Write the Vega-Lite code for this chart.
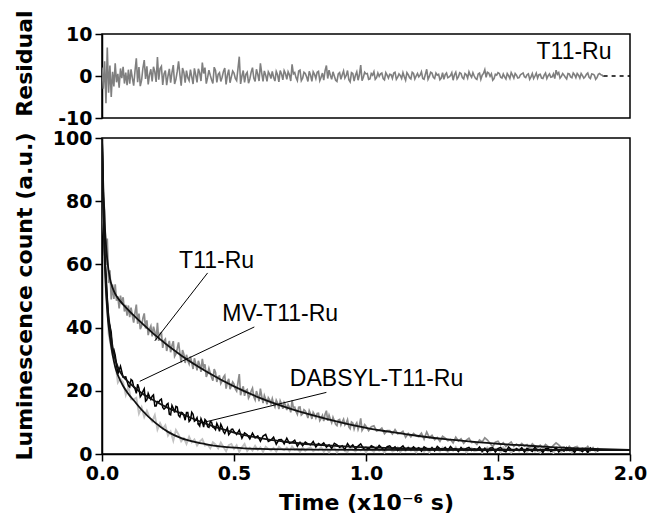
{
"$schema": "https://vega.github.io/schema/vega-lite/v6.json",
"background": "white",
"padding": {"left": 12, "top": 9, "right": 5, "bottom": 5},
"bounds": "flush",
"config": {
  "view": {"stroke": "black", "strokeWidth": 1.5},
  "axis": {"domainColor": "black", "domainWidth": 1.5, "tickColor": "black", "tickWidth": 1.5, "tickSize": 7, "grid": false,
    "labelFont": "DejaVu Sans", "labelFontWeight": "bold", "labelFontSize": 19, "labelColor": "black", "labelPadding": 3, "labelFlush": false,
    "titleFont": "DejaVu Sans", "titleFontWeight": "bold", "titleFontSize": 22, "titleColor": "black"},
  "text": {"font": "Liberation Sans", "fontSize": 23, "color": "black"}
},
"datasets": {
"res": [{"t":0,"v":2},{"t":0.005,"v":-3},{"t":0.01,"v":3.5},{"t":0.015,"v":-6.5},{"t":0.02,"v":6.8},{"t":0.025,"v":-4},{"t":0.03,"v":2.5},{"t":0.035,"v":-5},{"t":0.04,"v":1},{"t":0.045,"v":-2.5},{"t":0.05,"v":3},{"t":0.055,"v":-1.5},{"t":0.06,"v":0.5},{"t":0.065,"v":-2.8},{"t":0.07,"v":1.8},{"t":0.075,"v":-0.5},{"t":0.08,"v":2.2},{"t":0.085,"v":-1.8},{"t":0.09,"v":0.8},{"t":0.095,"v":-2.2},{"t":0.1,"v":1.5},
{"t":0.11,"v":1.6},{"t":0.12,"v":-2.3},{"t":0.13,"v":4.2},{"t":0.14,"v":2.1},{"t":0.15,"v":-1.0},{"t":0.16,"v":3.8},{"t":0.17,"v":2.3},{"t":0.18,"v":0.3},{"t":0.19,"v":-1.3},{"t":0.2,"v":1.0},
{"t":0.21,"v":4.5},{"t":0.22,"v":1.8},{"t":0.23,"v":-2.1},{"t":0.24,"v":1.3},{"t":0.25,"v":0.0},{"t":0.26,"v":-1.6},{"t":0.27,"v":2.6},{"t":0.28,"v":-0.8},{"t":0.29,"v":3.5},{"t":0.3,"v":-2.3},
{"t":0.31,"v":0.9},{"t":0.32,"v":1.3},{"t":0.33,"v":-1.1},{"t":0.34,"v":-0.2},{"t":0.35,"v":1.8},{"t":0.36,"v":-1.5},{"t":0.37,"v":0.7},{"t":0.38,"v":3.2},{"t":0.39,"v":2.0},{"t":0.4,"v":-0.4},
{"t":0.41,"v":0.2},{"t":0.42,"v":-1.8},{"t":0.43,"v":1.3},{"t":0.44,"v":0.4},{"t":0.45,"v":-1.3},{"t":0.46,"v":1.1},{"t":0.47,"v":-2.0},{"t":0.48,"v":1.5},{"t":0.49,"v":-0.2},{"t":0.5,"v":0.7},
{"t":0.51,"v":-1.1},{"t":0.52,"v":4.6},{"t":0.53,"v":0.0},{"t":0.54,"v":-1.5},{"t":0.55,"v":0.9},{"t":0.56,"v":-0.7},{"t":0.57,"v":2.0},{"t":0.58,"v":-1.3},{"t":0.59,"v":0.4},{"t":0.6,"v":3.0},
{"t":0.61,"v":-1.3},{"t":0.62,"v":0.2},{"t":0.63,"v":1.0},{"t":0.64,"v":-0.6},{"t":0.65,"v":-0.3},{"t":0.66,"v":1.1},{"t":0.67,"v":-1.4},{"t":0.68,"v":0.5},{"t":0.69,"v":1.3},{"t":0.7,"v":-0.8},
{"t":0.71,"v":0.3},{"t":0.72,"v":2.8},{"t":0.73,"v":0.8},{"t":0.74,"v":-1.1},{"t":0.75,"v":1.4},{"t":0.76,"v":-0.5},{"t":0.77,"v":0.6},{"t":0.78,"v":-1.3},{"t":0.79,"v":0.2},{"t":0.8,"v":1.0},
{"t":0.81,"v":-0.6},{"t":0.82,"v":1.1},{"t":0.83,"v":-0.3},{"t":0.84,"v":-1.0},{"t":0.85,"v":2.5},{"t":0.86,"v":1.4},{"t":0.87,"v":-0.8},{"t":0.88,"v":0.0},{"t":0.89,"v":-1.3},{"t":0.9,"v":0.8},
{"t":0.91,"v":0.3},{"t":0.92,"v":-0.5},{"t":0.93,"v":1.3},{"t":0.94,"v":-1.4},{"t":0.95,"v":0.6},{"t":0.96,"v":0.2},{"t":0.97,"v":-1.0},{"t":0.98,"v":2.6},{"t":0.99,"v":-0.3},{"t":1.0,"v":0.5},
{"t":1.01,"v":-0.8},{"t":1.02,"v":0.6},{"t":1.03,"v":1.0},{"t":1.04,"v":-0.4},{"t":1.05,"v":-0.1},{"t":1.06,"v":0.7},{"t":1.07,"v":-0.9},{"t":1.08,"v":0.2},{"t":1.09,"v":0.4},{"t":1.1,"v":-0.6},
{"t":1.11,"v":0.9},{"t":1.12,"v":-0.3},{"t":1.13,"v":0.1},{"t":1.14,"v":0.8},{"t":1.15,"v":-1.0},{"t":1.16,"v":0.3},{"t":1.17,"v":-0.7},{"t":1.18,"v":0.6},{"t":1.19,"v":0.0},{"t":1.2,"v":-0.2},
{"t":1.21,"v":1.0},{"t":1.22,"v":-0.8},{"t":1.23,"v":1.6},{"t":1.24,"v":-0.1},{"t":1.25,"v":0.7},{"t":1.26,"v":-0.6},{"t":1.27,"v":0.2},{"t":1.28,"v":-0.9},{"t":1.29,"v":0.8},{"t":1.3,"v":0.3},
{"t":1.31,"v":-0.4},{"t":1.32,"v":0.1},{"t":1.33,"v":-1.0},{"t":1.34,"v":0.9},{"t":1.35,"v":-0.2},{"t":1.36,"v":0.6},{"t":1.37,"v":-0.7},{"t":1.38,"v":0.3},{"t":1.39,"v":1.0},{"t":1.4,"v":-0.3},
{"t":1.41,"v":0.0},{"t":1.42,"v":-0.8},{"t":1.43,"v":0.7},{"t":1.44,"v":0.2},{"t":1.45,"v":1.5},{"t":1.46,"v":0.9},{"t":1.47,"v":-0.1},{"t":1.48,"v":-1.0},{"t":1.49,"v":0.4},{"t":1.5,"v":0.8},
{"t":1.51,"v":-0.3},{"t":1.52,"v":0.5},{"t":1.53,"v":-0.7},{"t":1.54,"v":0.1},{"t":1.55,"v":0.8},{"t":1.56,"v":-0.5},{"t":1.57,"v":0.2},{"t":1.58,"v":-0.4},{"t":1.59,"v":0.5},{"t":1.6,"v":-0.2},
{"t":1.61,"v":0.3},{"t":1.62,"v":-0.8},{"t":1.63,"v":0.6},{"t":1.64,"v":0.0},{"t":1.65,"v":-0.5},{"t":1.66,"v":0.4},{"t":1.67,"v":-0.6},{"t":1.68,"v":0.7},{"t":1.69,"v":0.1},{"t":1.7,"v":-0.3},
{"t":1.71,"v":0.5},{"t":1.72,"v":1.4},{"t":1.73,"v":0.8},{"t":1.74,"v":-0.1},{"t":1.75,"v":0.2},{"t":1.76,"v":-0.7},{"t":1.77,"v":0.5},{"t":1.78,"v":-0.4},{"t":1.79,"v":0.3},{"t":1.8,"v":0.6},
{"t":1.81,"v":-0.5},{"t":1.82,"v":0.1},{"t":1.83,"v":-0.2},{"t":1.84,"v":0.7},{"t":1.85,"v":-0.6},{"t":1.86,"v":0.4},{"t":1.87,"v":-0.8},{"t":1.88,"v":0.4},{"t":1.89,"v":0.3},{"t":1.9,"v":-0.2},
{"t":0.105,"v":-1.8},{"t":0.115,"v":-0.5},{"t":0.125,"v":1.2},{"t":0.135,"v":-1.5},{"t":0.145,"v":-2.4},{"t":0.155,"v":1.9},{"t":0.165,"v":-0.7},{"t":0.175,"v":-2.0},{"t":0.185,"v":1.6},{"t":0.195,"v":2.2},
{"t":0.205,"v":-1.4},{"t":0.215,"v":-0.9},{"t":0.225,"v":2.3},{"t":0.235,"v":0.5},{"t":0.245,"v":-2.2},{"t":0.255,"v":1.7},{"t":0.265,"v":0.8},{"t":0.275,"v":-1.9},{"t":0.285,"v":1.1},{"t":0.295,"v":0.4},
{"t":0.305,"v":1.9},{"t":0.315,"v":-1.6},{"t":0.325,"v":-0.4},{"t":0.335,"v":1.5},{"t":0.345,"v":-1.9},{"t":0.355,"v":0.3},{"t":0.365,"v":1.7},{"t":0.375,"v":-1.2},{"t":0.385,"v":0.6},{"t":0.395,"v":-1.8},
{"t":0.405,"v":1.4},{"t":0.415,"v":-0.9},{"t":0.425,"v":2.1},{"t":0.435,"v":-1.5},{"t":0.445,"v":0.8},{"t":0.455,"v":-0.3},{"t":0.465,"v":1.9},{"t":0.475,"v":0.2},{"t":0.485,"v":-1.6},{"t":0.495,"v":1.2},
{"t":0.505,"v":-0.6},{"t":0.515,"v":1.7},{"t":0.525,"v":-1.9},{"t":0.535,"v":1.3},{"t":0.545,"v":0.4},{"t":0.555,"v":-1.7},{"t":0.565,"v":0.9},{"t":0.575,"v":-0.5},{"t":0.585,"v":1.6},{"t":0.595,"v":-1.2},
{"t":0.605,"v":0.7},{"t":0.615,"v":1.2},{"t":0.625,"v":-1.3},{"t":0.635,"v":0.4},{"t":0.645,"v":1.1},{"t":0.655,"v":-1.2},{"t":0.665,"v":0.3},{"t":0.675,"v":1.3},{"t":0.685,"v":-0.9},{"t":0.695,"v":0.6},
{"t":0.705,"v":1.0},{"t":0.715,"v":-1.2},{"t":0.725,"v":0.5},{"t":0.735,"v":-0.4},{"t":0.745,"v":1.2},{"t":0.755,"v":-1.1},{"t":0.765,"v":0.9},{"t":0.775,"v":-0.2},{"t":0.785,"v":1.1},{"t":0.795,"v":-1.3},
{"t":0.805,"v":0.4},{"t":0.815,"v":0.9},{"t":0.825,"v":-1.1},{"t":0.835,"v":0.7},{"t":0.845,"v":1.3},{"t":0.855,"v":-0.6},{"t":0.865,"v":0.2},{"t":0.875,"v":1.0},{"t":0.885,"v":-1.0},{"t":0.895,"v":0.5},
{"t":0.905,"v":-0.8},{"t":0.915,"v":1.2},{"t":0.925,"v":0.1},{"t":0.935,"v":-0.9},{"t":0.945,"v":0.8},{"t":0.955,"v":-1.2},{"t":0.965,"v":1.0},{"t":0.975,"v":0.3},{"t":0.985,"v":-1.1},{"t":0.995,"v":0.9},
{"t":1.005,"v":0.6},{"t":1.015,"v":-0.7},{"t":1.025,"v":0.2},{"t":1.035,"v":-0.8},{"t":1.045,"v":0.7},{"t":1.055,"v":0.5},{"t":1.065,"v":-0.6},{"t":1.075,"v":0.8},{"t":1.085,"v":-0.5},{"t":1.095,"v":0.3},
{"t":1.105,"v":0.7},{"t":1.115,"v":-0.8},{"t":1.125,"v":0.5},{"t":1.135,"v":-0.6},{"t":1.145,"v":-0.2},{"t":1.155,"v":0.8},{"t":1.165,"v":-0.4},{"t":1.175,"v":0.9},{"t":1.185,"v":-0.7},{"t":1.195,"v":0.6},
{"t":1.205,"v":0.2},{"t":1.215,"v":-0.6},{"t":1.225,"v":0.4},{"t":1.235,"v":-0.8},{"t":1.245,"v":0.9},{"t":1.255,"v":-0.3},{"t":1.265,"v":0.7},{"t":1.275,"v":0.4},{"t":1.285,"v":-0.5},{"t":1.295,"v":-0.8},
{"t":1.305,"v":0.7},{"t":1.315,"v":-0.2},{"t":1.325,"v":0.8},{"t":1.335,"v":0.3},{"t":1.345,"v":-0.7},{"t":1.355,"v":0.8},{"t":1.365,"v":-0.4},{"t":1.375,"v":0.6},{"t":1.385,"v":-0.5},{"t":1.395,"v":0.2},
{"t":1.405,"v":0.8},{"t":1.415,"v":-0.6},{"t":1.425,"v":0.5},{"t":1.435,"v":-0.8},{"t":1.445,"v":0.6},{"t":1.455,"v":-0.3},{"t":1.465,"v":0.7},{"t":1.475,"v":0.5},{"t":1.485,"v":-0.6},{"t":1.495,"v":0.2},
{"t":1.505,"v":0.6},{"t":1.515,"v":-0.5},{"t":1.525,"v":-0.2},{"t":1.535,"v":0.6},{"t":1.545,"v":-0.6},{"t":1.555,"v":0.2},{"t":1.565,"v":0.6},{"t":1.575,"v":-0.5},{"t":1.585,"v":0.3},{"t":1.595,"v":0.7},
{"t":1.605,"v":-0.4},{"t":1.615,"v":0.5},{"t":1.625,"v":-0.2},{"t":1.635,"v":-0.6},{"t":1.645,"v":0.7},{"t":1.655,"v":0.3},{"t":1.665,"v":-0.5},{"t":1.675,"v":0.2},{"t":1.685,"v":-0.6},{"t":1.695,"v":0.5},
{"t":1.705,"v":-0.2},{"t":1.715,"v":-0.6},{"t":1.725,"v":0.4},{"t":1.735,"v":-0.5},{"t":1.745,"v":0.6},{"t":1.755,"v":-0.3},{"t":1.765,"v":0.6},{"t":1.775,"v":-0.2},{"t":1.785,"v":0.7},{"t":1.795,"v":-0.4},
{"t":1.805,"v":0.2},{"t":1.815,"v":0.6},{"t":1.825,"v":-0.5},{"t":1.835,"v":0.4},{"t":1.845,"v":-0.3},{"t":1.855,"v":0.5},{"t":1.865,"v":0.2},{"t":1.875,"v":-0.4},{"t":1.885,"v":0.6},{"t":1.895,"v":0.2}],
"zero": [{"t":1.9,"t2":2.0,"v":0}],
"reslab": [{"t":1.93,"v":4,"label":"T11-Ru"}],
"t11": [{"t":0,"v":99},{"t":0.005,"v":81.2},{"t":0.01,"v":77.0},{"t":0.015,"v":59.8},{"t":0.02,"v":68.2},{"t":0.025,"v":54.1},{"t":0.03,"v":58.1},{"t":0.035,"v":48.9},{"t":0.04,"v":53.6},{"t":0.045,"v":49.1},{"t":0.05,"v":53.7},{"t":0.055,"v":48.5},{"t":0.06,"v":49.9},{"t":0.065,"v":46.1},{"t":0.07,"v":50.1},{"t":0.075,"v":47.4},{"t":0.08,"v":49.6},{"t":0.085,"v":45.1},{"t":0.09,"v":47.2},{"t":0.095,"v":43.8},{"t":0.1,"v":47.0},
{"t":0.11,"v":46.3},{"t":0.12,"v":41.6},{"t":0.13,"v":47.3},{"t":0.14,"v":44.4},{"t":0.15,"v":40.5},{"t":0.16,"v":44.5},{"t":0.17,"v":42.3},{"t":0.18,"v":39.5},{"t":0.19,"v":37.2},{"t":0.2,"v":38.7},
{"t":0.21,"v":41.5},{"t":0.22,"v":38.2},{"t":0.23,"v":33.6},{"t":0.24,"v":36.4},{"t":0.25,"v":34.4},{"t":0.26,"v":32.2},{"t":0.27,"v":35.7},{"t":0.28,"v":31.7},{"t":0.29,"v":35.3},{"t":0.3,"v":28.9},
{"t":0.31,"v":31.6},{"t":0.32,"v":31.4},{"t":0.33,"v":28.5},{"t":0.34,"v":28.9},{"t":0.35,"v":30.3},{"t":0.36,"v":26.5},{"t":0.37,"v":28.2},{"t":0.38,"v":30.1},{"t":0.39,"v":28.4},{"t":0.4,"v":25.5},
{"t":0.41,"v":25.6},{"t":0.42,"v":23.2},{"t":0.43,"v":25.8},{"t":0.44,"v":24.5},{"t":0.45,"v":22.3},{"t":0.46,"v":24.3},{"t":0.47,"v":20.7},{"t":0.48,"v":23.8},{"t":0.49,"v":21.6},{"t":0.5,"v":22.1},
{"t":0.51,"v":19.9},{"t":0.52,"v":25.3},{"t":0.53,"v":20.3},{"t":0.54,"v":18.4},{"t":0.55,"v":20.4},{"t":0.56,"v":18.5},{"t":0.57,"v":20.8},{"t":0.58,"v":17.1},{"t":0.59,"v":18.5},{"t":0.6,"v":20.7},
{"t":0.61,"v":16.1},{"t":0.62,"v":17.3},{"t":0.63,"v":17.8},{"t":0.64,"v":15.9},{"t":0.65,"v":15.9},{"t":0.66,"v":17.0},{"t":0.67,"v":14.2},{"t":0.68,"v":15.8},{"t":0.69,"v":16.3},{"t":0.7,"v":13.9},
{"t":0.71,"v":14.8},{"t":0.72,"v":17.0},{"t":0.73,"v":14.8},{"t":0.74,"v":12.6},{"t":0.75,"v":14.9},{"t":0.76,"v":12.7},{"t":0.77,"v":13.6},{"t":0.78,"v":11.4},{"t":0.79,"v":12.7},{"t":0.8,"v":13.2},
{"t":0.81,"v":11.4},{"t":0.82,"v":12.9},{"t":0.83,"v":11.3},{"t":0.84,"v":10.4},{"t":0.85,"v":13.7},{"t":0.86,"v":12.3},{"t":0.87,"v":9.9},{"t":0.88,"v":10.5},{"t":0.89,"v":9.0},{"t":0.9,"v":10.9},
{"t":0.91,"v":10.2},{"t":0.92,"v":9.2},{"t":0.93,"v":10.9},{"t":0.94,"v":8.0},{"t":0.95,"v":9.8},{"t":0.96,"v":9.2},{"t":0.97,"v":7.8},{"t":0.98,"v":11.3},{"t":0.99,"v":8.2},{"t":1.0,"v":8.8},
{"t":1.01,"v":7.4},{"t":1.02,"v":8.6},{"t":1.03,"v":8.9},{"t":1.04,"v":7.3},{"t":1.05,"v":7.5},{"t":1.06,"v":8.2},{"t":1.07,"v":6.4},{"t":1.08,"v":7.4},{"t":1.09,"v":7.4},{"t":1.1,"v":6.3},
{"t":1.11,"v":7.7},{"t":1.12,"v":6.4},{"t":1.13,"v":6.6},{"t":1.14,"v":7.2},{"t":1.15,"v":5.3},{"t":1.16,"v":6.5},{"t":1.17,"v":5.4},{"t":1.18,"v":6.5},{"t":1.19,"v":5.8},{"t":1.2,"v":5.5},
{"t":1.21,"v":6.6},{"t":1.22,"v":4.7},{"t":1.23,"v":7.0},{"t":1.24,"v":5.2},{"t":1.25,"v":5.9},{"t":1.26,"v":4.5},{"t":1.27,"v":5.2},{"t":1.28,"v":4.0},{"t":1.29,"v":5.6},{"t":1.3,"v":5.0},
{"t":1.31,"v":4.2},{"t":1.32,"v":4.6},{"t":1.33,"v":3.5},{"t":1.34,"v":5.3},{"t":1.35,"v":4.1},{"t":1.36,"v":4.8},{"t":1.37,"v":3.4},{"t":1.38,"v":4.4},{"t":1.39,"v":5.0},{"t":1.4,"v":3.6},
{"t":1.41,"v":3.8},{"t":1.42,"v":3.0},{"t":1.43,"v":4.4},{"t":1.44,"v":3.8},{"t":1.45,"v":5.1},{"t":1.46,"v":4.4},{"t":1.47,"v":3.3},{"t":1.48,"v":2.3},{"t":1.49,"v":3.7},{"t":1.5,"v":4.0},
{"t":1.51,"v":2.9},{"t":1.52,"v":3.6},{"t":1.53,"v":2.4},{"t":1.54,"v":3.1},{"t":1.55,"v":3.8},{"t":1.56,"v":2.4},{"t":1.57,"v":3.1},{"t":1.58,"v":2.4},{"t":1.59,"v":3.3},{"t":1.6,"v":2.5},
{"t":1.61,"v":3.0},{"t":1.62,"v":1.8},{"t":1.63,"v":3.2},{"t":1.64,"v":2.5},{"t":1.65,"v":2.0},{"t":1.66,"v":2.8},{"t":1.67,"v":1.8},{"t":1.68,"v":3.0},{"t":1.69,"v":2.4},{"t":1.7,"v":1.9},
{"t":1.71,"v":2.7},{"t":1.72,"v":3.5},{"t":1.73,"v":2.9},{"t":1.74,"v":2.0},{"t":1.75,"v":2.2},{"t":1.76,"v":1.3},{"t":1.77,"v":2.4},{"t":1.78,"v":1.5},{"t":1.79,"v":2.1},{"t":1.8,"v":2.4},
{"t":1.81,"v":1.3},{"t":1.82,"v":1.9},{"t":1.83,"v":1.5},{"t":1.84,"v":2.4},{"t":1.85,"v":1.1},{"t":1.86,"v":2.0},{"t":1.87,"v":0.8},{"t":1.88,"v":2.0},
{"t":0.105,"v":43.3},{"t":0.115,"v":43.8},{"t":0.125,"v":44.7},{"t":0.135,"v":41.2},{"t":0.145,"v":39.5},{"t":0.155,"v":43.0},{"t":0.165,"v":39.7},{"t":0.175,"v":37.6},{"t":0.185,"v":40.5},{"t":0.195,"v":40.3},
{"t":0.205,"v":36.0},{"t":0.215,"v":35.8},{"t":0.225,"v":38.4},{"t":0.235,"v":35.9},{"t":0.245,"v":32.6},{"t":0.255,"v":35.8},{"t":0.265,"v":34.3},{"t":0.275,"v":30.9},{"t":0.285,"v":33.3},{"t":0.295,"v":31.9},
{"t":0.305,"v":32.9},{"t":0.315,"v":28.8},{"t":0.325,"v":29.5},{"t":0.335,"v":30.9},{"t":0.345,"v":26.9},{"t":0.355,"v":28.6},{"t":0.365,"v":29.5},{"t":0.375,"v":26.0},{"t":0.385,"v":27.3},{"t":0.395,"v":24.4},
{"t":0.405,"v":27.1},{"t":0.415,"v":24.3},{"t":0.425,"v":26.9},{"t":0.435,"v":22.8},{"t":0.445,"v":24.7},{"t":0.455,"v":23.1},{"t":0.465,"v":24.9},{"t":0.475,"v":22.7},{"t":0.485,"v":20.5},{"t":0.495,"v":22.8},
{"t":0.505,"v":20.6},{"t":0.515,"v":22.6},{"t":0.525,"v":18.6},{"t":0.535,"v":21.4},{"t":0.545,"v":20.1},{"t":0.555,"v":17.7},{"t":0.565,"v":19.9},{"t":0.575,"v":18.1},{"t":0.585,"v":19.9},{"t":0.595,"v":16.7},
{"t":0.605,"v":18.3},{"t":0.615,"v":18.5},{"t":0.625,"v":15.7},{"t":0.635,"v":17.1},{"t":0.645,"v":17.5},{"t":0.655,"v":14.9},{"t":0.665,"v":16.1},{"t":0.675,"v":16.8},{"t":0.685,"v":14.3},{"t":0.695,"v":15.5},
{"t":0.705,"v":15.6},{"t":0.715,"v":13.2},{"t":0.725,"v":14.6},{"t":0.735,"v":13.5},{"t":0.745,"v":14.8},{"t":0.755,"v":12.3},{"t":0.765,"v":14.0},{"t":0.775,"v":12.7},{"t":0.785,"v":13.7},{"t":0.795,"v":11.1},
{"t":0.805,"v":12.5},{"t":0.815,"v":12.8},{"t":0.825,"v":10.6},{"t":0.835,"v":12.2},{"t":0.845,"v":12.6},{"t":0.855,"v":10.5},{"t":0.865,"v":11.0},{"t":0.875,"v":11.6},{"t":0.885,"v":9.4},{"t":0.895,"v":10.7},
{"t":0.905,"v":9.2},{"t":0.915,"v":11.0},{"t":0.925,"v":9.8},{"t":0.935,"v":8.6},{"t":0.945,"v":10.1},{"t":0.955,"v":7.9},{"t":0.965,"v":9.9},{"t":0.975,"v":9.1},{"t":0.985,"v":7.5},{"t":0.995,"v":9.3}],
"mv": [{"t":0,"v":100},{"t":0.005,"v":78},{"t":0.01,"v":63},{"t":0.015,"v":57},{"t":0.02,"v":49.5},{"t":0.025,"v":42},{"t":0.03,"v":40.5},{"t":0.035,"v":38.5},{"t":0.04,"v":32.5},{"t":0.045,"v":33},{"t":0.05,"v":31.3},{"t":0.06,"v":25.3},{"t":0.07,"v":27.8},{"t":0.08,"v":24.3},{"t":0.09,"v":24.4},{"t":0.1,"v":21.6},
{"t":0.11,"v":23.6},{"t":0.12,"v":21.3},{"t":0.13,"v":19.2},{"t":0.14,"v":20.8},{"t":0.15,"v":18.7},{"t":0.16,"v":20.6},{"t":0.17,"v":17.1},{"t":0.18,"v":18.2},{"t":0.19,"v":18.3},{"t":0.2,"v":15.2},
{"t":0.21,"v":16.6},{"t":0.22,"v":17.1},{"t":0.23,"v":14.7},{"t":0.24,"v":14.6},{"t":0.25,"v":16.0},{"t":0.26,"v":12.4},{"t":0.27,"v":14.5},{"t":0.28,"v":15.1},{"t":0.29,"v":12.2},{"t":0.3,"v":13.2},
{"t":0.31,"v":12.2},{"t":0.32,"v":13.1},{"t":0.33,"v":10.3},{"t":0.34,"v":13.2},{"t":0.35,"v":10.4},{"t":0.36,"v":11.5},{"t":0.37,"v":8.8},{"t":0.38,"v":10.2},{"t":0.39,"v":10.9},{"t":0.4,"v":8.6},
{"t":0.41,"v":10.2},{"t":0.42,"v":8.5},{"t":0.43,"v":7.7},{"t":0.44,"v":8.8},{"t":0.45,"v":9.4},{"t":0.46,"v":7.1},{"t":0.47,"v":7.5},{"t":0.48,"v":6.1},{"t":0.49,"v":7.8},{"t":0.5,"v":7.1},
{"t":0.51,"v":6.2},{"t":0.52,"v":7.6},{"t":0.53,"v":5.0},{"t":0.54,"v":6.7},{"t":0.55,"v":6.1},{"t":0.56,"v":4.8},{"t":0.57,"v":6.6},{"t":0.58,"v":5.1},{"t":0.59,"v":5.7},{"t":0.6,"v":4.0},
{"t":0.61,"v":5.7},{"t":0.62,"v":6.2},{"t":0.63,"v":4.0},{"t":0.64,"v":4.4},{"t":0.65,"v":5.3},{"t":0.66,"v":3.1},{"t":0.67,"v":4.5},{"t":0.68,"v":4.6},{"t":0.69,"v":3.2},{"t":0.7,"v":5.0},
{"t":0.71,"v":3.4},{"t":0.72,"v":3.7},{"t":0.73,"v":4.4},{"t":0.74,"v":2.5},{"t":0.75,"v":3.7},{"t":0.76,"v":2.6},{"t":0.77,"v":3.8},{"t":0.78,"v":3.2},{"t":0.79,"v":2.9},{"t":0.8,"v":4.0},
{"t":0.81,"v":2.2},{"t":0.82,"v":3.3},{"t":0.83,"v":2.8},{"t":0.84,"v":3.5},{"t":0.85,"v":2.2},{"t":0.86,"v":2.9},{"t":0.87,"v":1.8},{"t":0.88,"v":3.4},{"t":0.89,"v":2.9},{"t":0.9,"v":2.1},
{"t":0.91,"v":2.6},{"t":0.92,"v":1.4},{"t":0.93,"v":3.3},{"t":0.94,"v":2.1},{"t":0.95,"v":2.9},{"t":0.96,"v":1.6},{"t":0.97,"v":2.5},{"t":0.98,"v":3.2},{"t":0.99,"v":1.8},{"t":1.0,"v":2.1},
{"t":1.01,"v":1.5},{"t":1.02,"v":2.6},{"t":1.03,"v":2.2},{"t":1.04,"v":1.6},{"t":1.05,"v":2.7},{"t":1.06,"v":1.9},{"t":1.07,"v":1.2},{"t":1.08,"v":2.3},{"t":1.09,"v":2.6},{"t":1.1,"v":1.6},
{"t":1.11,"v":2.3},{"t":1.12,"v":1.1},{"t":1.13,"v":1.9},{"t":1.14,"v":2.6},{"t":1.15,"v":1.3},{"t":1.16,"v":2.0},{"t":1.17,"v":1.4},{"t":1.18,"v":2.3},{"t":1.19,"v":1.5},{"t":1.2,"v":2.0},
{"t":1.21,"v":0.9},{"t":1.22,"v":2.3},{"t":1.23,"v":1.7},{"t":1.24,"v":1.2},{"t":1.25,"v":2.0},{"t":1.26,"v":1.0},{"t":1.27,"v":2.4},{"t":1.28,"v":1.7},{"t":1.29,"v":1.3},{"t":1.3,"v":2.1},
{"t":1.31,"v":1.1},{"t":1.32,"v":2.4},{"t":1.33,"v":1.5},{"t":1.34,"v":1.7},{"t":1.35,"v":0.8},{"t":1.36,"v":2.1},{"t":1.37,"v":1.2},{"t":1.38,"v":1.8},{"t":1.39,"v":2.1},{"t":1.4,"v":1.1},
{"t":1.41,"v":1.6},{"t":1.42,"v":1.3},{"t":1.43,"v":2.2},{"t":1.44,"v":0.8},{"t":1.45,"v":1.8},{"t":1.46,"v":0.6},{"t":1.47,"v":1.9},{"t":1.48,"v":2.0},{"t":1.49,"v":0.6},{"t":1.5,"v":1.7},
{"t":1.51,"v":2.1},{"t":1.52,"v":1.0},{"t":1.53,"v":0.7},{"t":1.54,"v":2.2},{"t":1.55,"v":1.4},{"t":1.56,"v":0.9},{"t":1.57,"v":1.7},{"t":1.58,"v":1.2},{"t":1.59,"v":2.0},{"t":1.6,"v":0.6},
{"t":1.61,"v":1.8},{"t":1.62,"v":1.3},{"t":1.63,"v":0.8},{"t":1.64,"v":2.2},{"t":1.65,"v":1.0},{"t":1.66,"v":1.5},{"t":1.67,"v":0.5},{"t":1.68,"v":1.7},{"t":1.69,"v":1.8},{"t":1.7,"v":0.8},
{"t":1.71,"v":1.2},{"t":1.72,"v":2.0},{"t":1.73,"v":0.6},{"t":1.74,"v":1.5},{"t":1.75,"v":0.9},{"t":1.76,"v":2.1},{"t":1.77,"v":1.1},{"t":1.78,"v":1.4},{"t":1.79,"v":0.5},{"t":1.8,"v":1.8},
{"t":1.81,"v":1.4},{"t":1.82,"v":0.7},{"t":1.83,"v":1.7},{"t":1.84,"v":0.4},{"t":1.85,"v":1.9},{"t":1.86,"v":1.2},{"t":1.87,"v":1.5},{"t":1.88,"v":0.8},
{"t":0.105,"v":21.2},{"t":0.115,"v":23.2},{"t":0.125,"v":20.6},{"t":0.135,"v":22.1},{"t":0.145,"v":18.1},{"t":0.155,"v":19.8},{"t":0.165,"v":16.7},{"t":0.175,"v":19.2},{"t":0.185,"v":17.3},{"t":0.195,"v":18.7},
{"t":0.205,"v":15.2},{"t":0.215,"v":16.4},{"t":0.225,"v":17.4},{"t":0.235,"v":14.2},{"t":0.245,"v":15.7},{"t":0.255,"v":12.6},{"t":0.265,"v":15.4},{"t":0.275,"v":13.1},{"t":0.285,"v":14.9},{"t":0.295,"v":11.7},
{"t":0.305,"v":13.0},{"t":0.315,"v":10.7},{"t":0.325,"v":13.1},{"t":0.335,"v":10.8},{"t":0.345,"v":12.6},{"t":0.355,"v":10.7},{"t":0.365,"v":9.4},{"t":0.375,"v":11.2},{"t":0.385,"v":8.5},{"t":0.395,"v":10.4},
{"t":0.405,"v":8.4},{"t":0.415,"v":10.1},{"t":0.425,"v":8.3},{"t":0.435,"v":9.7},{"t":0.445,"v":7.2},{"t":0.455,"v":8.5},{"t":0.465,"v":6.5},{"t":0.475,"v":8.3},{"t":0.485,"v":6.7},{"t":0.495,"v":7.9}],
"dab": [{"t":0,"v":100},{"t":0.005,"v":74},{"t":0.01,"v":63.5},{"t":0.015,"v":50},{"t":0.02,"v":47.7},{"t":0.025,"v":38},{"t":0.03,"v":35.8},{"t":0.04,"v":31.2},{"t":0.05,"v":29.3},{"t":0.06,"v":22.6},{"t":0.07,"v":23.8},{"t":0.08,"v":22.7},{"t":0.09,"v":18.7},{"t":0.1,"v":21.4},
{"t":0.11,"v":17.3},{"t":0.12,"v":17.3},{"t":0.13,"v":17.8},{"t":0.14,"v":12.8},{"t":0.15,"v":14.8},{"t":0.16,"v":11.7},{"t":0.17,"v":13.7},{"t":0.18,"v":11.6},{"t":0.19,"v":10.3},{"t":0.2,"v":12.3},
{"t":0.21,"v":7.7},{"t":0.22,"v":9.8},{"t":0.23,"v":8.0},{"t":0.24,"v":9.1},{"t":0.25,"v":5.8},{"t":0.26,"v":7.1},{"t":0.27,"v":4.2},{"t":0.28,"v":7.6},{"t":0.29,"v":6.2},{"t":0.3,"v":4.0},
{"t":0.31,"v":5.0},{"t":0.32,"v":3.2},{"t":0.33,"v":5.5},{"t":0.34,"v":3.7},{"t":0.35,"v":4.6},{"t":0.36,"v":2.7},{"t":0.37,"v":3.9},{"t":0.38,"v":4.7},{"t":0.39,"v":2.7},{"t":0.4,"v":3.0},
{"t":0.41,"v":1.8},{"t":0.42,"v":3.7},{"t":0.43,"v":3.0},{"t":0.44,"v":1.8},{"t":0.45,"v":3.6},{"t":0.46,"v":2.2},{"t":0.47,"v":0.9},{"t":0.48,"v":2.8},{"t":0.49,"v":3.2},{"t":0.5,"v":1.6},
{"t":0.51,"v":2.8},{"t":0.52,"v":0.7},{"t":0.53,"v":2.1},{"t":0.54,"v":3.2},{"t":0.55,"v":0.9},{"t":0.56,"v":2.0},{"t":0.57,"v":1.1},{"t":0.58,"v":2.6},{"t":0.59,"v":1.3},{"t":0.6,"v":2.1},
{"t":0.61,"v":0.7},{"t":0.62,"v":2.3},{"t":0.63,"v":1.6},{"t":0.64,"v":1.1},{"t":0.65,"v":1.9},{"t":0.66,"v":0.8},{"t":0.67,"v":2.3},{"t":0.68,"v":1.6},{"t":0.69,"v":1.2},{"t":0.7,"v":2.0},
{"t":0.71,"v":0.9},{"t":0.72,"v":2.4},{"t":0.73,"v":1.4},{"t":0.74,"v":1.7},{"t":0.75,"v":0.7},{"t":0.76,"v":2.0},{"t":0.77,"v":1.0},{"t":0.78,"v":1.7},{"t":0.79,"v":2.1},{"t":0.8,"v":0.9},
{"t":0.81,"v":1.5},{"t":0.82,"v":1.2},{"t":0.83,"v":2.2},{"t":0.84,"v":0.7},{"t":0.85,"v":1.8},{"t":0.86,"v":0.5},{"t":0.87,"v":1.9},{"t":0.88,"v":2.0},{"t":0.89,"v":0.5},{"t":0.9,"v":1.7},
{"t":0.91,"v":2.1},{"t":0.92,"v":0.9},{"t":0.93,"v":0.6},{"t":0.94,"v":2.2},{"t":0.95,"v":1.4},{"t":0.96,"v":0.8},{"t":0.97,"v":1.7},{"t":0.98,"v":1.1},{"t":0.99,"v":2.0},{"t":1.0,"v":0.5},
{"t":1.01,"v":1.8},{"t":1.02,"v":1.3},{"t":1.03,"v":0.7},{"t":1.04,"v":2.2},{"t":1.05,"v":1.0},{"t":1.06,"v":1.5},{"t":1.07,"v":0.4},{"t":1.08,"v":1.7},{"t":1.09,"v":1.9},{"t":1.1,"v":0.8},
{"t":1.11,"v":1.2},{"t":1.12,"v":2.1},{"t":1.13,"v":0.6},{"t":1.14,"v":1.6},{"t":1.15,"v":0.9},{"t":1.16,"v":2.2},{"t":1.17,"v":1.1},{"t":1.18,"v":1.4},{"t":1.19,"v":0.5},{"t":1.2,"v":1.9},
{"t":1.21,"v":1.5},{"t":1.22,"v":0.7},{"t":1.23,"v":1.8},{"t":1.24,"v":0.4},{"t":1.25,"v":2.0},{"t":1.26,"v":1.2},{"t":1.27,"v":1.6},{"t":1.28,"v":0.8},{"t":1.29,"v":2.1},{"t":1.3,"v":1.3},
{"t":1.31,"v":0.6},{"t":1.32,"v":1.7},{"t":1.33,"v":1.0},{"t":1.34,"v":2.2},{"t":1.35,"v":0.7},{"t":1.36,"v":1.5},{"t":1.37,"v":1.8},{"t":1.38,"v":0.5},{"t":1.39,"v":1.4},{"t":1.4,"v":1.9},
{"t":1.41,"v":0.9},{"t":1.42,"v":1.1},{"t":1.43,"v":2.0},{"t":1.44,"v":0.4},{"t":1.45,"v":1.6},{"t":1.46,"v":2.1},{"t":1.47,"v":0.8},{"t":1.48,"v":1.5},{"t":1.49,"v":1.2},{"t":1.5,"v":1.7},
{"t":1.51,"v":0.5},{"t":1.52,"v":2.1},{"t":1.53,"v":0.9},{"t":1.54,"v":1.6},{"t":1.55,"v":0.4},{"t":1.56,"v":1.3},{"t":1.57,"v":1.8},{"t":1.58,"v":0.8},{"t":1.59,"v":1.9},{"t":1.6,"v":1.0},
{"t":1.61,"v":0.6},{"t":1.62,"v":1.5},{"t":1.63,"v":2.1},{"t":1.64,"v":0.7},{"t":1.65,"v":1.2},{"t":1.66,"v":0.4},{"t":1.67,"v":1.7},{"t":1.68,"v":1.4},{"t":1.69,"v":0.9},{"t":1.7,"v":2.0},
{"t":1.71,"v":0.3},{"t":1.72,"v":1.6},{"t":1.73,"v":1.3},{"t":1.74,"v":0.6},{"t":1.75,"v":1.9},{"t":1.76,"v":1.0},{"t":1.77,"v":1.5},{"t":1.78,"v":0.5},{"t":1.79,"v":1.7},{"t":1.8,"v":2.1},
{"t":1.81,"v":0.8},{"t":1.82,"v":1.1},{"t":1.83,"v":1.8},{"t":1.84,"v":0.4},{"t":1.85,"v":1.4},{"t":1.86,"v":1.6},{"t":1.87,"v":0.7},{"t":1.88,"v":2.0}],
"fits": [
{"s":"T11-Ru","t":0,"v":100},{"s":"T11-Ru","t":0.005,"v":84.2},{"s":"T11-Ru","t":0.01,"v":73.5},{"s":"T11-Ru","t":0.015,"v":66.3},{"s":"T11-Ru","t":0.02,"v":61.4},{"s":"T11-Ru","t":0.03,"v":55.6},{"s":"T11-Ru","t":0.04,"v":52.6},{"s":"T11-Ru","t":0.05,"v":50.7},{"s":"T11-Ru","t":0.07,"v":48.3},{"s":"T11-Ru","t":0.1,"v":45.5},{"s":"T11-Ru","t":0.15,"v":41.5},{"s":"T11-Ru","t":0.2,"v":37.7},{"s":"T11-Ru","t":0.3,"v":31.2},{"s":"T11-Ru","t":0.4,"v":25.9},{"s":"T11-Ru","t":0.5,"v":21.4},{"s":"T11-Ru","t":0.6,"v":17.7},{"s":"T11-Ru","t":0.7,"v":14.7},{"s":"T11-Ru","t":0.8,"v":12.2},{"s":"T11-Ru","t":0.9,"v":10.1},{"s":"T11-Ru","t":1.0,"v":8.3},{"s":"T11-Ru","t":1.1,"v":6.9},{"s":"T11-Ru","t":1.2,"v":5.7},{"s":"T11-Ru","t":1.3,"v":4.7},{"s":"T11-Ru","t":1.4,"v":3.9},{"s":"T11-Ru","t":1.5,"v":3.2},{"s":"T11-Ru","t":1.6,"v":2.7},{"s":"T11-Ru","t":1.7,"v":2.2},{"s":"T11-Ru","t":1.8,"v":1.8},{"s":"T11-Ru","t":1.9,"v":1.5},{"s":"T11-Ru","t":2.0,"v":1.3},
{"s":"MV","t":0,"v":100},{"s":"MV","t":0.005,"v":80},{"s":"MV","t":0.01,"v":65},{"s":"MV","t":0.015,"v":55},{"s":"MV","t":0.02,"v":48},{"s":"MV","t":0.03,"v":40},{"s":"MV","t":0.04,"v":34},{"s":"MV","t":0.05,"v":30},{"s":"MV","t":0.06,"v":27.5},{"s":"MV","t":0.08,"v":24.5},{"s":"MV","t":0.1,"v":22.8},{"s":"MV","t":0.12,"v":21.3},{"s":"MV","t":0.15,"v":19.3},{"s":"MV","t":0.2,"v":16.8},{"s":"MV","t":0.25,"v":14.6},{"s":"MV","t":0.3,"v":12.8},{"s":"MV","t":0.35,"v":11.0},{"s":"MV","t":0.4,"v":9.4},{"s":"MV","t":0.45,"v":8.0},{"s":"MV","t":0.5,"v":6.8},{"s":"MV","t":0.6,"v":5.0},{"s":"MV","t":0.7,"v":3.8},{"s":"MV","t":0.8,"v":3.0},{"s":"MV","t":0.9,"v":2.5},{"s":"MV","t":1.0,"v":2.1},{"s":"MV","t":1.2,"v":1.7},{"s":"MV","t":1.4,"v":1.5},{"s":"MV","t":1.6,"v":1.35},{"s":"MV","t":1.8,"v":1.27},{"s":"MV","t":2.0,"v":1.2},
{"s":"DAB","t":0,"v":100},{"s":"DAB","t":0.005,"v":78},{"s":"DAB","t":0.01,"v":62},{"s":"DAB","t":0.015,"v":52},{"s":"DAB","t":0.02,"v":45},{"s":"DAB","t":0.03,"v":37},{"s":"DAB","t":0.04,"v":31.5},{"s":"DAB","t":0.05,"v":27.5},{"s":"DAB","t":0.06,"v":25},{"s":"DAB","t":0.08,"v":21.5},{"s":"DAB","t":0.1,"v":19},{"s":"DAB","t":0.12,"v":17},{"s":"DAB","t":0.15,"v":14},{"s":"DAB","t":0.2,"v":10},{"s":"DAB","t":0.25,"v":7},{"s":"DAB","t":0.3,"v":5},{"s":"DAB","t":0.35,"v":3.8},{"s":"DAB","t":0.4,"v":3.0},{"s":"DAB","t":0.5,"v":2.0},{"s":"DAB","t":0.6,"v":1.6},{"s":"DAB","t":0.8,"v":1.4},{"s":"DAB","t":1.0,"v":1.3},{"s":"DAB","t":1.5,"v":1.2},{"s":"DAB","t":2.0,"v":1.2}],
"leaders": [{"t":0.40,"v":57.3,"t2":0.2,"v2":35.8},{"t":0.577,"v":40.2,"t2":0.143,"v2":23},{"t":0.85,"v":19.5,"t2":0.36,"v2":9.5}],
"labels": [{"t":0.434,"v":59,"label":"T11-Ru"},{"t":0.675,"v":42.1,"label":"MV-T11-Ru"},{"t":1.04,"v":21.5,"label":"DABSYL-T11-Ru"}]
},
"vconcat": [
 {
  "width": 528, "height": 84,
  "layer": [
   {"data": {"name": "res"}, "mark": {"type": "line", "color": "#7f7f7f", "strokeWidth": 1.6, "clip": true},
    "encoding": {
     "x": {"field": "t", "type": "quantitative", "scale": {"domain": [0, 2], "nice": false}, "axis": null},
     "y": {"field": "v", "type": "quantitative", "scale": {"domain": [-10, 10], "nice": false},
       "axis": {"values": [-10, 0, 10], "title": "Residual", "titleX": -66, "titleY": 29, "labelExpr": "replace(datum.label, '−', '-')"}}
    }},
   {"data": {"name": "zero"}, "mark": {"type": "rule", "color": "black", "strokeWidth": 1.3, "strokeDash": [4, 4]},
    "encoding": {"x": {"field": "t", "type": "quantitative"}, "x2": {"field": "t2"}, "y": {"field": "v", "type": "quantitative"}}},
   {"data": {"name": "reslab"}, "mark": {"type": "text", "align": "right", "baseline": "alphabetic"},
    "encoding": {"x": {"field": "t", "type": "quantitative"}, "y": {"field": "v", "type": "quantitative"}, "text": {"field": "label"}}}
  ]
 },
 {
  "width": 528, "height": 316,
  "layer": [
   {"data": {"name": "t11"}, "mark": {"type": "line", "color": "#8c8c8c", "strokeWidth": 1.7, "clip": true},
    "encoding": {
     "x": {"field": "t", "type": "quantitative", "scale": {"domain": [0, 2], "nice": false},
       "axis": {"values": [0, 0.5, 1, 1.5, 2], "format": ".1f", "title": "Time (x10⁻⁶ s)", "titlePadding": 9}},
     "y": {"field": "v", "type": "quantitative", "scale": {"domain": [0, 100], "nice": false},
       "axis": {"values": [0, 20, 40, 60, 80, 100], "title": "Luminescence count (a.u.)", "titleX": -66}}
    }},
   {"data": {"name": "dab"}, "mark": {"type": "line", "color": "#c2c2c2", "strokeWidth": 1.9, "clip": true},
    "encoding": {"x": {"field": "t", "type": "quantitative"}, "y": {"field": "v", "type": "quantitative"}}},
   {"data": {"name": "mv"}, "mark": {"type": "line", "color": "black", "strokeWidth": 1.5, "clip": true},
    "encoding": {"x": {"field": "t", "type": "quantitative"}, "y": {"field": "v", "type": "quantitative"}}},
   {"data": {"name": "fits"}, "mark": {"type": "line", "color": "#111111", "strokeWidth": 1.8, "interpolate": "monotone", "clip": true},
    "encoding": {"x": {"field": "t", "type": "quantitative"}, "y": {"field": "v", "type": "quantitative"}, "detail": {"field": "s"}}},
   {"data": {"name": "leaders"}, "mark": {"type": "rule", "color": "black", "strokeWidth": 1},
    "encoding": {"x": {"field": "t", "type": "quantitative"}, "y": {"field": "v", "type": "quantitative"}, "x2": {"field": "t2"}, "y2": {"field": "v2"}}},
   {"data": {"name": "labels"}, "mark": {"type": "text", "align": "center", "baseline": "alphabetic"},
    "encoding": {"x": {"field": "t", "type": "quantitative"}, "y": {"field": "v", "type": "quantitative"}, "text": {"field": "label"}}}
  ]
 }
],
"spacing": 20
}
